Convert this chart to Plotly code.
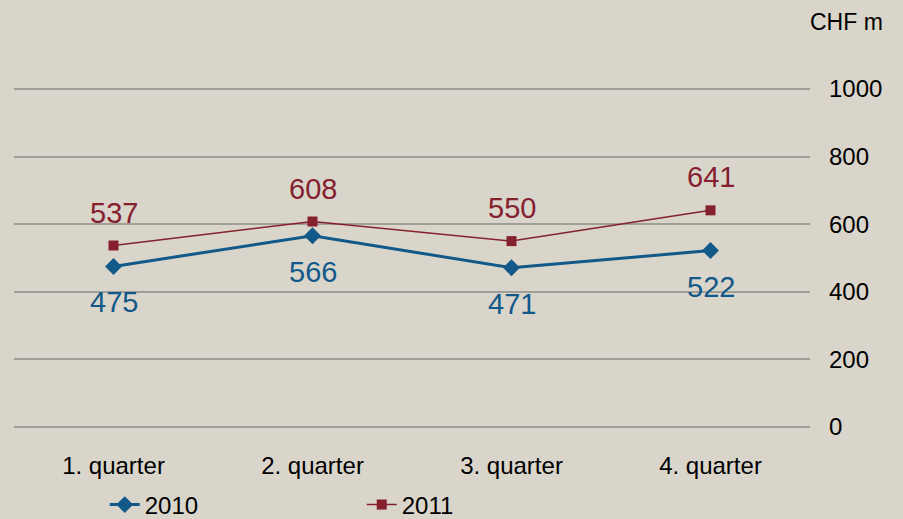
import plotly.graph_objects as go

categories = ["1. quarter", "2. quarter", "3. quarter", "4. quarter"]
values_2010 = [475, 566, 471, 522]
values_2011 = [537, 608, 550, 641]
y_ticks = [0, 200, 400, 600, 800, 1000]

BG = "#D9D5CB"
BLUE = "#12598A"
RED = "#85202F"
GRID = "#A09E99"
FONT = "Liberation Sans, Arial, sans-serif"

fig = go.Figure()
fig.add_trace(go.Scatter(
    x=categories, y=values_2010, name="2010", mode="lines+markers",
    line=dict(color=BLUE, width=3),
    marker=dict(symbol="diamond", size=13, color=BLUE),
))
fig.add_trace(go.Scatter(
    x=categories, y=values_2011, name="2011", mode="lines+markers",
    line=dict(color=RED, width=1.5),
    marker=dict(symbol="square", size=10, color=RED),
))

annotations = []
for c, v in zip(categories, values_2010):
    annotations.append(dict(x=c, y=v, text=str(v), showarrow=False, yshift=-36,
                            font=dict(size=29, color=BLUE, family=FONT)))
for c, v in zip(categories, values_2011):
    annotations.append(dict(x=c, y=v, text=str(v), showarrow=False, yshift=33,
                            font=dict(size=29, color=RED, family=FONT)))
annotations.append(dict(xref="paper", yref="paper", x=1.0, y=1.0, xshift=36, yshift=65,
                        text="CHF m", showarrow=False, xanchor="center", yanchor="middle",
                        font=dict(size=23, color="#000000", family=FONT)))

fig.update_layout(
    width=903, height=519,
    paper_bgcolor=BG, plot_bgcolor=BG,
    margin=dict(l=14, r=93, t=87, b=90),
    font=dict(family=FONT, size=24, color="#000000"),
    showlegend=True,
    legend=dict(orientation="h", x=0.114, xanchor="left", yref="container", y=0.027,
                yanchor="middle", entrywidth=212, entrywidthmode="pixels",
                font=dict(size=24, color="#000000"), bgcolor="rgba(0,0,0,0)"),
    annotations=annotations,
    xaxis=dict(type="category", range=[-0.5, 3.5], showgrid=False, zeroline=False,
               showline=False, ticks="", ticklabelstandoff=20, automargin=False,
               tickfont=dict(size=24, color="#000000")),
    yaxis=dict(side="right", range=[-6, 1006], tickvals=y_ticks,
               showgrid=True, gridcolor=GRID, gridwidth=1.5, zeroline=False,
               showline=False, ticks="", ticklabelstandoff=18, automargin=False,
               tickfont=dict(size=24, color="#000000")),
)

fig.write_html("out.html", config={"displayModeBar": False},
               post_script="document.body.style.margin='0';")
